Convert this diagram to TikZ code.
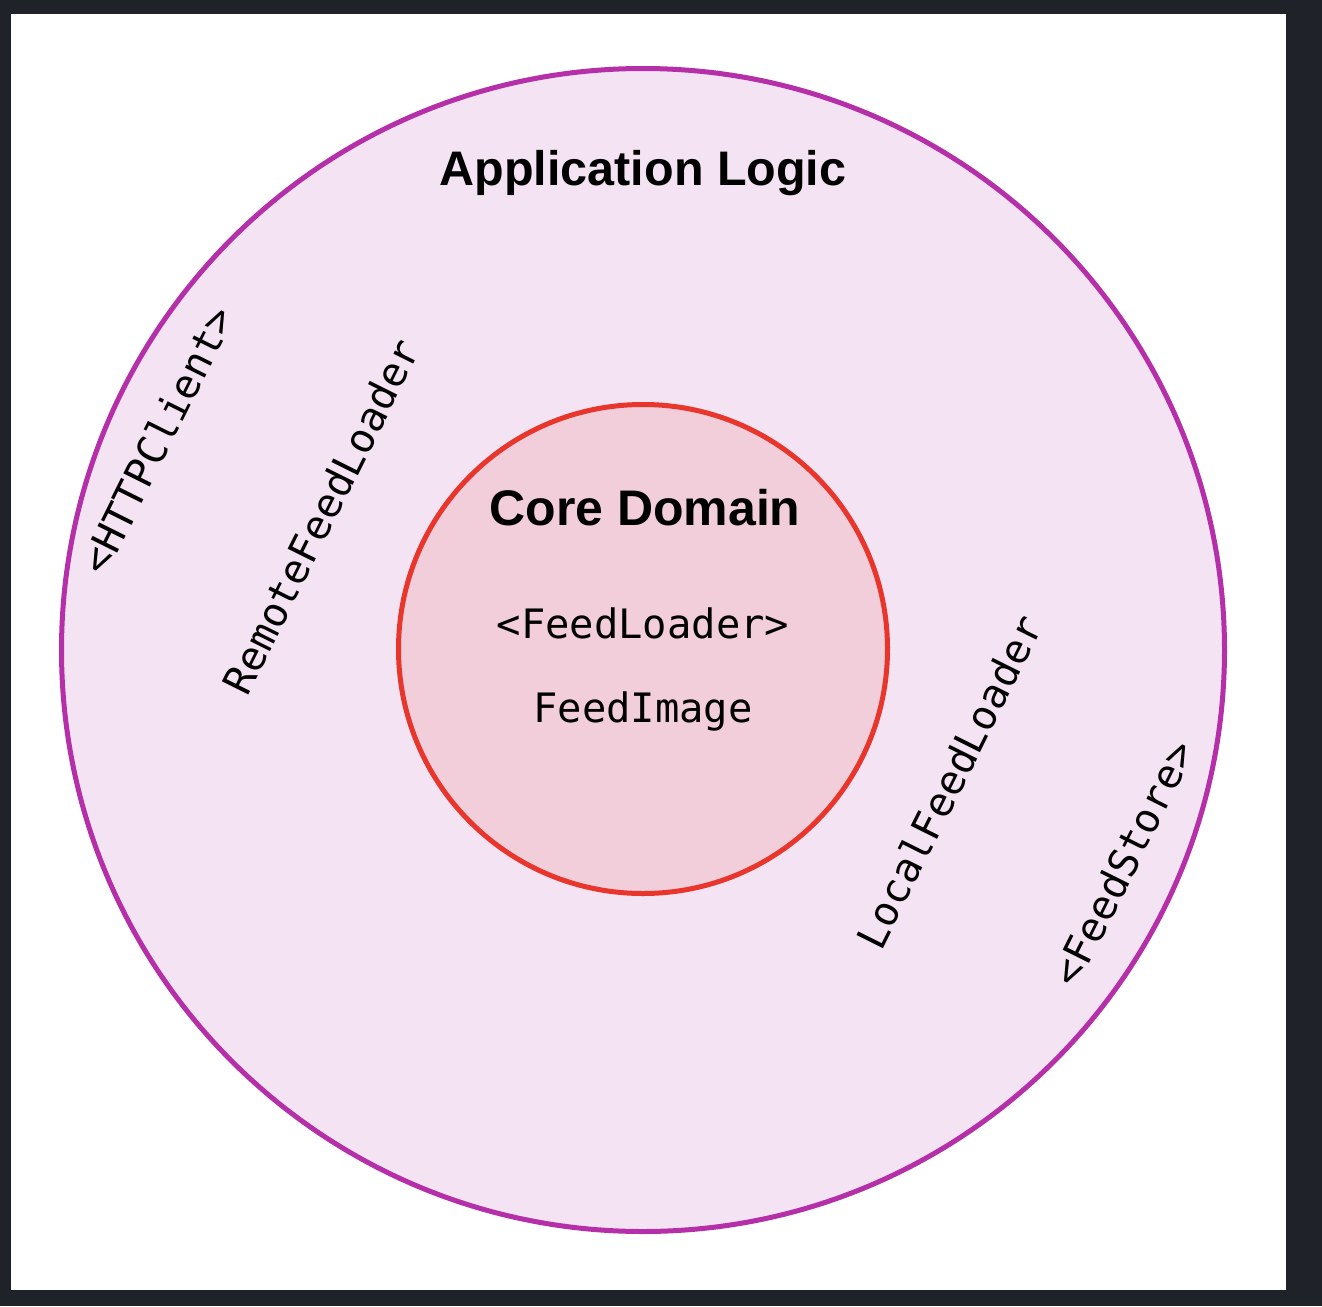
\documentclass[tikz,border=0pt]{standalone}
\usepackage{fontspec}
\setsansfont{Liberation Sans}
\setmonofont{DejaVu Sans Mono}
\definecolor{bgdark}{HTML}{1F2329}
\definecolor{outerfill}{HTML}{F4E4F3}
\definecolor{outerline}{HTML}{B52FA9}
\definecolor{innerfill}{HTML}{F2CEDB}
\definecolor{innerline}{HTML}{E8362C}
\tikzset{
  titletext/.style={font=\sffamily\bfseries\fontsize{48.5}{58}\selectfont, text=black, inner sep=0pt, anchor=base},
  codetext/.style={font=\ttfamily\fontsize{40.5}{48}\selectfont, text=black, inner sep=0pt},
  ringtext/.style={codetext, rotate=63.5},
}
\begin{document}
\begin{tikzpicture}[x=1pt,y=1pt]
\useasboundingbox (0,0) rectangle (1322,-1306);
\fill[bgdark] (0,0) rectangle (1322,-1306);
\fill[white] (11,-14) rectangle (1286,-1290);
\node[circle, draw=outerline, fill=outerfill, line width=5pt, minimum size=1163pt, inner sep=0pt] (outer) at (643,-650) {};
\node[circle, draw=innerline, fill=innerfill, line width=5pt, minimum size=489pt, inner sep=0pt] (inner) at (643,-649) {};
\node[titletext] (app) at (643,-185) {Application Logic};
\node[titletext, font=\sffamily\bfseries\fontsize{50}{60}\selectfont] (core) at (645,-525) {Core Domain};
\node[codetext, anchor=base] (fl) at (643,-638) {<FeedLoader>};
\node[codetext, anchor=base] (fi) at (643,-722) {FeedImage};
\node[ringtext] (http) at (157,-440) {<HTTPClient>};
\node[ringtext] (remote) at (321,-516) {RemoteFeedLoader};
\node[ringtext] (local) at (949,-782) {LocalFeedLoader};
\node[ringtext] (store) at (1123,-863) {<FeedStore>};
\end{tikzpicture}
\end{document}
